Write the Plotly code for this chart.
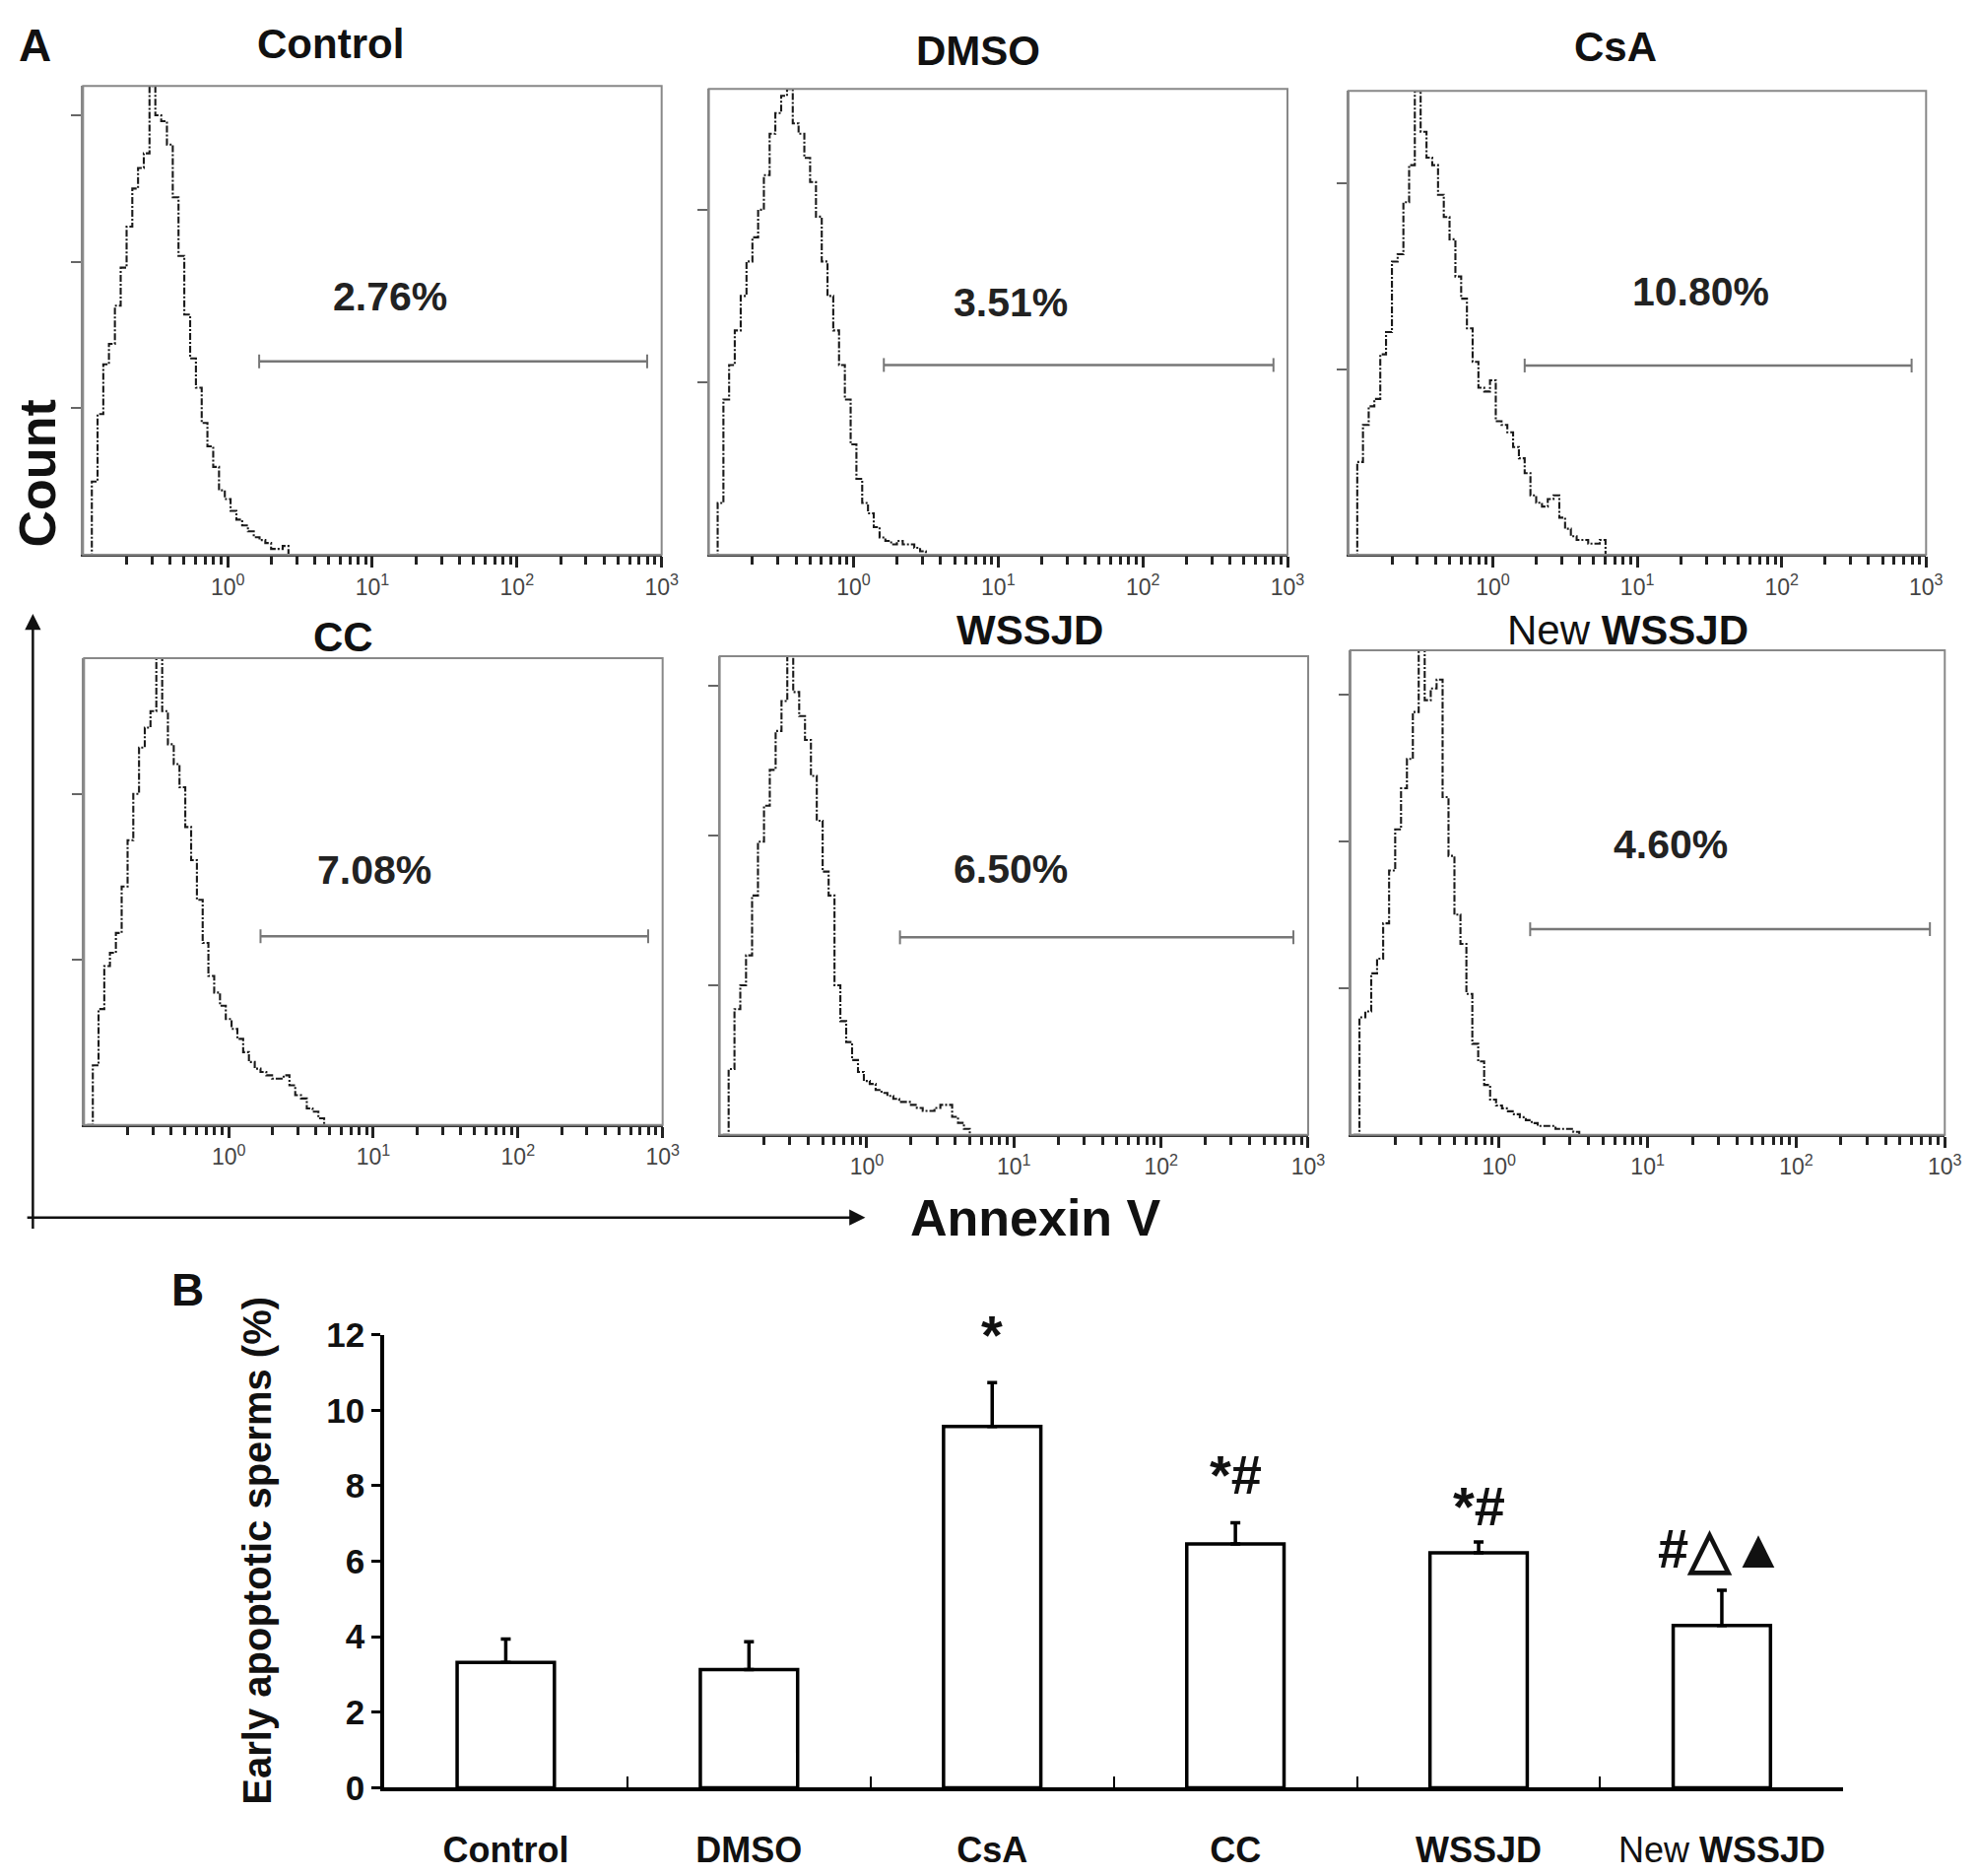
import plotly.graph_objects as go

FONT = "Liberation Sans, Arial, sans-serif"
W, H = 2008, 1904
# the captured page comes out slightly shifted and squeezed, measured on a
# test render: shown = scale * figure_px + offset. Positions below are target
# pixels and are mapped back through this before use.
SX, OXP = 0.9926, 5.6
SY, OYP = 0.98, 27.7

groups = ["Control", "DMSO", "CsA", "CC", "WSSJD", "New WSSJD"]
titles = ["<b>Control</b>", "<b>DMSO</b>", "<b>CsA</b>", "<b>CC</b>", "<b>WSSJD</b>", "New <b>WSSJD</b>"]

# panel A: Annexin V channel positions (shared) and counts per group
annexin = [0.105, 0.115, 0.126, 0.138, 0.151, 0.166, 0.182, 0.200, 0.219, 0.240,
           0.263, 0.288, 0.316, 0.347, 0.380, 0.417, 0.457, 0.501, 0.550, 0.603,
           0.661, 0.724, 0.794, 0.871, 0.955, 1.047, 1.148, 1.259, 1.380, 1.514,
           1.660, 1.820, 1.995, 2.188, 2.399, 2.630, 2.884, 3.162, 3.467, 3.802,
           4.169, 4.571, 5.012, 5.495, 6.026]
count_control = [0, 25, 48, 65, 72, 85, 98, 112, 125, 132, 137, 160, 150, 148, 140, 122, 102, 82,
                 67, 57, 45, 37, 30, 22, 19, 15, 12, 10, 8, 6, 5, 4, 2, 2, 3, 0]
count_dmso = [0, 15, 45, 55, 65, 75, 85, 92, 100, 110, 122, 128, 133, 135, 125, 122, 115, 108,
              98, 85, 75, 65, 55, 45, 32, 22, 15, 12, 8, 5, 4, 3, 4, 3, 3, 2, 1, 0]
count_csa = [0, 25, 35, 40, 42, 54, 60, 79, 81, 95, 105, 125, 114, 107, 105, 97, 91, 85,
             75, 69, 61, 52, 45, 44, 47, 36, 35, 33, 29, 26, 22, 16, 14, 13, 15, 16, 10, 7,
             5, 4, 4, 3, 3, 4, 0]
count_cc = [0, 18, 35, 48, 52, 58, 72, 86, 100, 114, 120, 125, 141, 125, 115, 109, 102, 90,
            80, 68, 55, 45, 40, 36, 32, 29, 26, 22, 19, 17, 16, 15, 14, 14, 15, 12, 9, 8,
            5, 4, 2, 0]
count_wssjd = [0, 22, 42, 50, 60, 80, 98, 110, 122, 135, 145, 160, 148, 140, 132, 120, 105, 88,
               80, 50, 38, 31, 25, 21, 18, 17, 15, 14, 13, 12, 11, 11, 10, 9, 8, 8, 9, 10,
               10, 6, 4, 2, 0]
count_new = [0, 40, 42, 55, 60, 72, 90, 104, 118, 128, 144, 165, 148, 152, 155, 115, 95, 75,
             65, 48, 31, 25, 17, 12, 10, 9, 8, 7, 6, 5, 4, 3, 3, 3, 2, 2, 2, 1, 0]
counts = [count_control, count_dmso, count_csa, count_cc, count_wssjd, count_new]

percent_labels = ["2.76%", "3.51%", "10.80%", "7.08%", "6.50%", "4.60%"]
gate_low = [1.65, 1.62, 1.66, 1.66, 1.68, 1.62]
gate_high = [794, 800, 794, 794, 794, 794]
gate_level = [66, 55, 51, 57, 66, 70]

# panel B
means = [3.32, 3.13, 9.57, 6.46, 6.22, 4.30]
sems = [0.62, 0.74, 1.16, 0.56, 0.29, 0.93]
marks = ["", "", "*", "*#", "*#", "#\u25b3\u25b2"]
mark_y = [0, 0, 12.0, 8.3, 7.45, 6.35]

# layout helpers (target pixel boxes of the six histogram frames)
boxes = [(82, 87, 670, 563), (718, 90, 1306, 563), (1368, 92, 1955, 563),
         (83, 668, 671, 1142), (729, 666, 1327, 1152), (1370, 660, 1974, 1152)]
ymax = [160, 135, 125, 141, 160, 165]
title_pos = [(333, 44), (992, 51), (1639, 47), (346, 647), (1044, 640), (1652, 640)]
label_pos = [(1.12, 88), (1.085, 73), (1.436, 71), (1.005, 77), (0.977, 89), (1.153, 99)]


def fx(p):
    return (p - OXP) / SX / W


def fy(p):
    return 1 - (p - OYP) / SY / H


def paper_text(text, px, py, size, angle=0):
    return dict(text=text, x=fx(px), y=fy(py), xref="paper", yref="paper",
                xanchor="center", yanchor="middle", showarrow=False, textangle=angle,
                font=dict(size=size, color="#111"))


fig = go.Figure()
layout = dict(width=W, height=H, margin=dict(l=0, r=0, t=0, b=0),
              paper_bgcolor="white", plot_bgcolor="white", showlegend=False,
              font=dict(family=FONT, color="#111"))
annotations = []
shapes = []

minor_vals = [m * 10 ** e for e in (-1, 0, 1, 2) for m in range(2, 10)]

for i, g in enumerate(groups):
    n = "" if i == 0 else str(i + 1)
    x0, y0, x1, y1 = boxes[i]
    xs = annexin[:len(counts[i])]
    fig.add_trace(go.Scatter(x=xs, y=counts[i], mode="lines", line_shape="hv",
                             line=dict(color="#1a1a1a", width=2.1, dash="7px,2px,2px,2px"),
                             xaxis="x" + n, yaxis="y" + n, hoverinfo="skip"))
    fig.add_trace(go.Scatter(x=[gate_low[i], gate_high[i]], y=[gate_level[i]] * 2,
                             mode="lines+markers", line=dict(color="#777", width=2.5),
                             marker=dict(symbol="line-ns-open", size=10, color="#777",
                                         line=dict(width=2, color="#777")),
                             xaxis="x" + n, yaxis="y" + n, hoverinfo="skip"))
    layout["xaxis" + n] = dict(
        domain=[fx(x0), fx(x1)], anchor="y" + n, type="log", range=[-1, 3],
        showgrid=False, zeroline=False, showline=True, linecolor="#333", linewidth=2,
        ticks="outside", ticklen=11, tickwidth=2.5, tickcolor="#222",
        tickvals=[1, 10, 100, 1000],
        ticktext=["10<sup>0</sup>", "10<sup>1</sup>", "10<sup>2</sup>", "10<sup>3</sup>"],
        tickfont=dict(size=23, color="#444"),
        minor=dict(tickvals=minor_vals, ticks="outside", ticklen=8, tickwidth=2.5,
                   tickcolor="#222", showgrid=False))
    layout["yaxis" + n] = dict(
        domain=[fy(y1), fy(y0)], anchor="x" + n, range=[0, ymax[i]],
        showgrid=False, zeroline=False, showline=True, linecolor="#888", linewidth=2,
        ticks="outside", ticklen=10, tickwidth=2, tickcolor="#666",
        tickvals=[50, 100, 150], showticklabels=False)
    shapes.append(dict(type="rect", xref="x%s domain" % n, yref="y%s domain" % n,
                       x0=0, x1=1, y0=0, y1=1, line=dict(color="#888", width=2)))
    tx, ty = title_pos[i]
    annotations.append(paper_text(titles[i], tx, ty, 42))
    lx, ly = label_pos[i]
    annotations.append(dict(text="<b>" + percent_labels[i] + "</b>", x=lx, y=ly,
                            xref="x" + n, yref="y" + n, showarrow=False,
                            xanchor="center", yanchor="middle",
                            font=dict(size=41, color="#222")))

# panel B bar chart
fig.add_trace(go.Bar(x=groups, y=means, width=0.4, xaxis="x7", yaxis="y7",
                     marker=dict(color="white", line=dict(color="black", width=3.5)),
                     error_y=dict(type="data", symmetric=False, array=sems,
                                  arrayminus=[0] * len(sems), color="black",
                                  thickness=3.5, width=5)))
layout["xaxis7"] = dict(domain=[fx(388), fx(1871)], anchor="y7", type="category",
                        range=[-0.5, 5.5], showline=True, linecolor="black", linewidth=3.5,
                        ticks="inside", tickson="boundaries", ticklen=12, tickwidth=2,
                        tickcolor="black", showgrid=False, tickvals=groups,
                        ticktext=["<b>Control</b>", "<b>DMSO</b>", "<b>CsA</b>", "<b>CC</b>",
                                  "<b>WSSJD</b>", "New <b>WSSJD</b>"],
                        ticklabelstandoff=29, tickfont=dict(size=36, color="#111"))
layout["yaxis7"] = dict(domain=[fy(1815), fy(1355)], anchor="x7", range=[0, 12],
                        dtick=2, showline=True, linecolor="black", linewidth=3.5,
                        ticks="outside", ticklen=9, tickwidth=3, tickcolor="black",
                        showgrid=False, zeroline=False,
                        tickfont=dict(size=35, color="#111", weight="bold"))

for g, t, yv in zip(groups, marks, mark_y):
    if t:
        annotations.append(dict(text="<b>" + t + "</b>", x=g, y=yv, xref="x7", yref="y7",
                                showarrow=False, xanchor="center", yanchor="middle",
                                font=dict(size=56, color="#111")))

annotations += [
    paper_text("<b>Early apoptotic sperms (%)</b>", 258, 1574, 40, -90),
    paper_text("<b>Count</b>", 36, 480, 52, -90),
    paper_text("<b>Annexin V</b>", 1050, 1236, 52),
    dict(text="<b>A</b>", x=fx(33), y=fy(46), xref="paper", yref="paper", xanchor="center",
         yanchor="middle", showarrow=False, font=dict(size=46, color="#111")),
    paper_text("<b>B</b>", 188, 1309, 46),
    dict(text="", x=fx(31), y=fy(623), xref="paper", yref="paper", axref="pixel",
         ayref="pixel", ax=0, ay=(1236 - 623) / SY, showarrow=True, arrowhead=2,
         arrowsize=1.3, arrowwidth=2.5, arrowcolor="#111"),
    dict(text="", x=fx(877), y=fy(1236), xref="paper", yref="paper", axref="pixel",
         ayref="pixel", ax=-(877 - 31) / SX, ay=0, showarrow=True, arrowhead=2,
         arrowsize=1.3, arrowwidth=2.5, arrowcolor="#111"),
]

layout["annotations"] = annotations
layout["shapes"] = shapes
fig.update_layout(**layout)
fig.write_html("out.html")
